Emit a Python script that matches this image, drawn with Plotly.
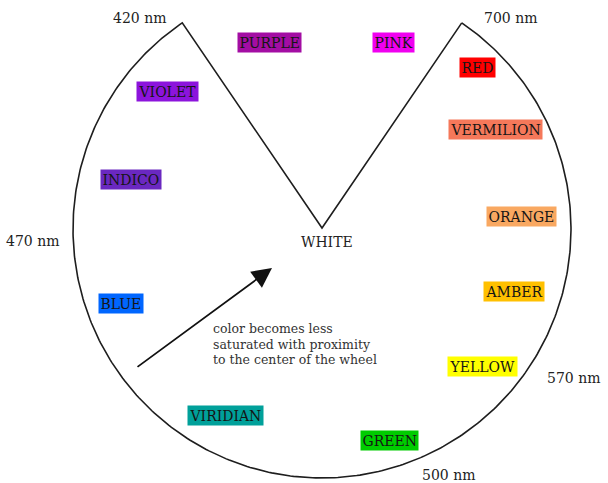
import math
import plotly.graph_objects as go

# ---- data ----
color_names = ["PURPLE", "PINK", "VIOLET", "RED", "VERMILION", "INDICO", "ORANGE",
               "AMBER", "BLUE", "YELLOW", "VIRIDIAN", "GREEN"]
color_fill = ["#a30da3", "#f000f0", "#8c14dc", "#ff0000", "#f5785a", "#6a28c0", "#f9a861",
              "#ffc000", "#0066ff", "#ffff00", "#00a09a", "#00cc00"]
color_x = [269, 393, 167, 477, 495, 131, 521, 514, 121, 482, 225, 389]
color_y = [42, 42, 91, 67, 129, 179, 216, 291, 303, 366, 415, 440]

wave_labels = ["420 nm", "700 nm", "470 nm", "570 nm", "500 nm"]
wave_x = [139, 510, 32, 573, 448]
wave_y = [18, 18, 241, 378, 475]

center_label = "WHITE"
note_lines = ["color becomes less", "saturated with proximity", "to the center of the wheel"]
note_y = [328, 344, 359]

# wheel geometry (pixel-like data coordinates, y downwards)
cx, cy, r = 322, 229, 249
gap_half_angle = math.degrees(math.atan2(139, 205))
white_pt = (322, 228)

fig = go.Figure()

# arc of the wheel
n = 400
thetas = [gap_half_angle + (360 - 2 * gap_half_angle) * i / n for i in range(n + 1)]
arc_x = [cx + r * math.sin(math.radians(t)) for t in thetas]
arc_y = [cy - r * math.cos(math.radians(t)) for t in thetas]
# wedge: 420 vertex -> white -> 700 vertex
wedge_x = [arc_x[-1], white_pt[0], arc_x[0]]
wedge_y = [arc_y[-1], white_pt[1], arc_y[0]]
fig.add_trace(go.Scatter(x=arc_x + wedge_x, y=arc_y + wedge_y, mode="lines",
                         line=dict(color="#1e1e1e", width=1.6), hoverinfo="skip",
                         showlegend=False))

serif = "DejaVu Serif, Liberation Serif, serif"

for name, fill, x, y in zip(color_names, color_fill, color_x, color_y):
    fig.add_annotation(x=x, y=y, text=name, showarrow=False, bgcolor=fill,
                       borderpad=1.5, font=dict(family=serif, size=14, color="#151515"))

for lab, x, y in zip(wave_labels, wave_x, wave_y):
    fig.add_annotation(x=x, y=y, text=lab, showarrow=False,
                       font=dict(family=serif, size=14, color="#222222"))

fig.add_annotation(x=327, y=242, text=center_label, showarrow=False,
                   font=dict(family=serif, size=14, color="#222222"))

# arrow toward the center
fig.add_annotation(x=272, y=268, ax=136, ay=368, axref="x", ayref="y", xref="x", yref="y",
                   text="", showarrow=True, arrowhead=2, arrowsize=2.2, arrowwidth=1.8,
                   arrowcolor="#111111")

for line, y in zip(note_lines, note_y):
    fig.add_annotation(x=211, y=y, text=line, showarrow=False, xanchor="left",
                       font=dict(family=serif, size=12.5, color="#333333"))

fig.update_layout(width=608, height=483, margin=dict(l=0, r=0, t=0, b=0),
                  paper_bgcolor="white", plot_bgcolor="white",
                  xaxis=dict(range=[0, 608], visible=False, fixedrange=True),
                  yaxis=dict(range=[483, 0], visible=False, fixedrange=True))

fig.write_html("out.html", config={"displayModeBar": False},
               post_script="document.body.style.margin='0';document.body.style.overflow='hidden';")
